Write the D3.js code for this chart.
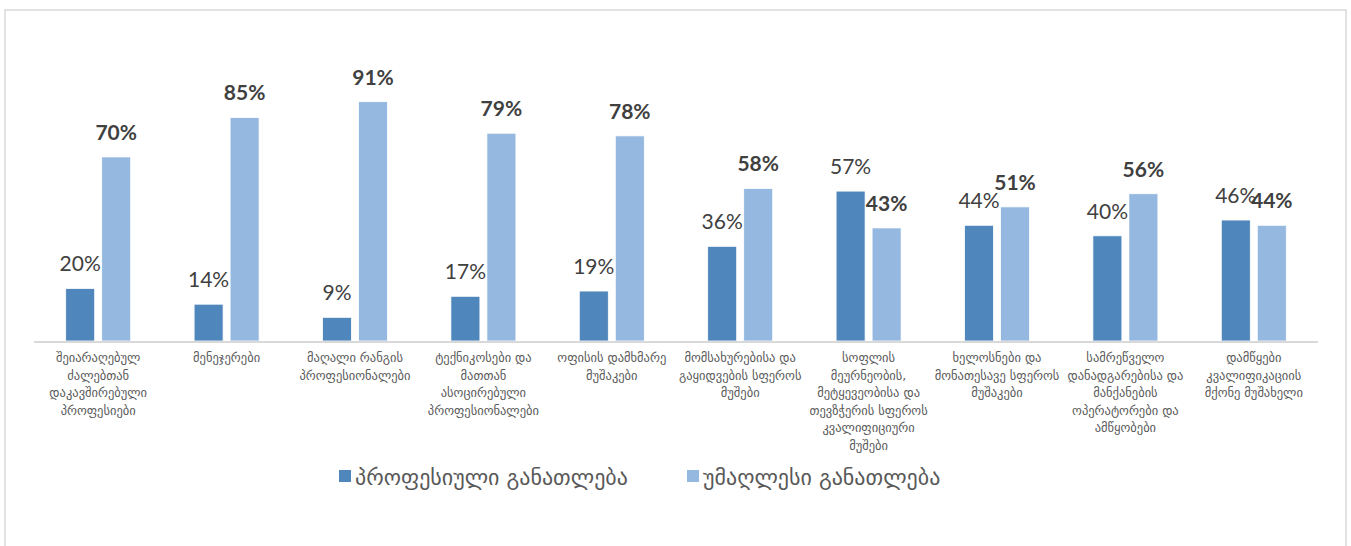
<!DOCTYPE html>
<html>
<head>
<meta charset="utf-8">
<script src="https://cdn.jsdelivr.net/npm/d3@7"></script>
<style>
  body { margin: 0; background: #fff; }
</style>
</head>
<body>
<div id="chart"></div>
<script>
// category labels, already broken into lines like in the original
const categories = [
    ["შეიარაღებულ", "ძალებთან", "დაკავშირებული", "პროფესიები"],
    ["მენეჯერები"],
    ["მაღალი რანგის", "პროფესიონალები"],
    ["ტექნიკოსები და", "მათთან", "ასოცირებული", "პროფესიონალები"],
    ["ოფისის დამხმარე", "მუშაკები"],
    ["მომსახურებისა და", "გაყიდვების სფეროს", "მუშები"],
    ["სოფლის", "მეურნეობის,", "მეტყევეობისა და", "თევზჭერის სფეროს", "კვალიფიციური", "მუშები"],
    ["ხელოსნები და", "მონათესავე სფეროს", "მუშაკები"],
    ["სამრეწველო", "დანადგარებისა და", "მანქანების", "ოპერატორები და", "ამწყობები"],
    ["დამწყები", "კვალიფიკაციის", "მქონე მუშახელი"]
];
const seriesNames = ["პროფესიული განათლება", "უმაღლესი განათლება"];
const vocational = [0.20, 0.14, 0.09, 0.17, 0.19, 0.36, 0.57, 0.44, 0.40, 0.46];
const higher = [0.70, 0.85, 0.91, 0.79, 0.78, 0.58, 0.43, 0.51, 0.56, 0.44];

const colors = ["#4f87bc", "#95b8e0"];
const svgWidth = 1351, svgHeight = 546;
const baseY = 341;

const svg = d3.select("#chart").append("svg")
    .attr("width", svgWidth)
    .attr("height", svgHeight);

// chart frame
svg.append("rect")
    .attr("x", 5).attr("y", 10)
    .attr("width", 1341).attr("height", 560)
    .attr("fill", "#fff")
    .attr("stroke", "#d9d9d9")
    .attr("stroke-width", 1.5);

const x = d3.scaleBand()
    .domain(d3.range(categories.length))
    .range([34, 1318])
    .padding(0);

const x1 = d3.scaleBand()
    .domain([0, 1])
    .range([0, x.bandwidth()])
    .paddingInner(0.194)
    .paddingOuter(0.88);

const y = d3.scaleLinear()
    .domain([0, 1])
    .range([baseY, 78]);

const rows = categories.map((c, i) => ({ i, vals: [vocational[i], higher[i]] }));

const groups = svg.selectAll(".grp")
    .data(rows)
    .enter()
    .append("g")
    .attr("transform", d => `translate(${x(d.i)},0)`);

groups.selectAll("rect")
    .data(d => d.vals.map((v, s) => ({ v, s })))
    .enter()
    .append("rect")
    .attr("x", d => x1(d.s))
    .attr("y", d => y(d.v))
    .attr("width", x1.bandwidth())
    .attr("height", d => y(0) - y(d.v))
    .attr("fill", d => colors[d.s])
    .attr("stroke", "#ffffff")
    .attr("stroke-width", 0.8);

// value labels: first series plain, second bold
groups.selectAll(".val")
    .data(d => d.vals.map((v, s) => ({ v, s })))
    .enter()
    .append("text")
    .attr("x", d => x1(d.s) + x1.bandwidth() / 2)
    .attr("y", d => y(d.v) - 17)
    .attr("text-anchor", "middle")
    .style("font-family", "Lato, 'Open Sans', sans-serif")
    .style("font-size", "21px")
    .style("font-weight", d => d.s === 1 ? "bold" : "normal")
    .style("fill", "#404040")
    .text(d => d3.format(".0%")(d.v));

// axis line
svg.append("line")
    .attr("x1", x.range()[0]).attr("x2", x.range()[1])
    .attr("y1", baseY + 1).attr("y2", baseY + 1)
    .attr("stroke", "#d9d9d9")
    .attr("stroke-width", 2);

// category labels
const catText = svg.selectAll(".cat")
    .data(categories)
    .enter()
    .append("text")
    .attr("x", (d, i) => x(i) + x.bandwidth() / 2)
    .attr("y", 362)
    .attr("text-anchor", "middle")
    .style("font-family", "'DejaVu Sans', sans-serif")
    .style("font-size", "12.5px")
    .style("fill", "#595959");

catText.selectAll("tspan")
    .data(d => d)
    .enter()
    .append("tspan")
    .attr("x", function () { return d3.select(this.parentNode).attr("x"); })
    .attr("dy", (d, i) => i === 0 ? 0 : 17.5)
    .text(d => d);

// legend
const legend = svg.append("g");
const legendX = [339, 687];
seriesNames.forEach((name, i) => {
    legend.append("rect")
        .attr("x", legendX[i]).attr("y", 470)
        .attr("width", 12).attr("height", 12)
        .attr("fill", colors[i]);
    legend.append("text")
        .attr("x", legendX[i] + 16).attr("y", 485)
        .style("font-family", "'DejaVu Sans', sans-serif")
        .style("font-size", "22px")
        .style("fill", "#595959")
        .text(name);
});
</script>
</body>
</html>
